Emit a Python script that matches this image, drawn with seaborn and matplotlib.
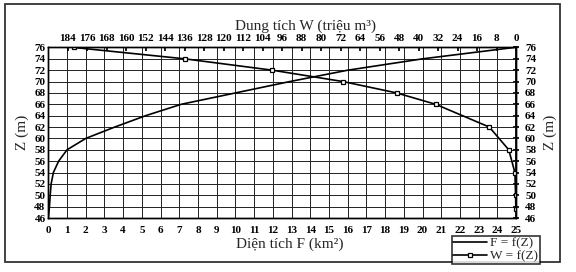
import matplotlib
matplotlib.use("Agg")
import matplotlib.pyplot as plt
import seaborn as sns
from matplotlib.patches import Rectangle

# ---- data ----
Z_F = [46, 47, 48, 50, 52, 54, 56, 58, 60, 62, 64, 66, 68, 70, 72, 74, 76]
F_km2 = [0, 0.03, 0.06, 0.1, 0.15, 0.27, 0.55, 1.0, 2.0, 3.55, 5.2, 7.1, 10.0, 12.9, 16.0, 20.0, 24.9]

Z_W = [47.5, 50, 54, 58, 62, 66, 68, 70, 72, 74, 76]
W_mil = [0.1, 0.2, 0.5, 3.0, 11.0, 33.0, 49.0, 71.0, 100.0, 136.0, 181.5]

F_ticks = list(range(0, 26))
W_ticks = list(range(0, 185, 8))
Z_ticks = list(range(46, 77, 2))

sns.set_theme(style="white")
plt.rcParams["font.family"] = ["Liberation Serif", "DejaVu Serif"]

fig = plt.figure(figsize=(5.76, 2.72), dpi=100)
ax = fig.add_axes([0.0839, 0.1985, 0.8121, 0.627])

sns.lineplot(x=F_km2, y=Z_F, sort=False, estimator=None, color="black",
             lw=1.2, ax=ax, label="F = f(Z)", legend=False)

ax2 = ax.twiny()
sns.lineplot(x=W_mil, y=Z_W, sort=False, estimator=None, color="black",
             lw=1.2, marker="s", markersize=3.3, markerfacecolor="white",
             markeredgecolor="black", markeredgewidth=0.9, ax=ax2,
             label="W = f(Z)", legend=False)

ax.set_xlim(0, 25)
ax.set_ylim(46, 76)
ax2.set_xlim(192, 0)
ax2.set_ylim(46, 76)

ax.set_xticks(F_ticks)
ax.set_yticks(Z_ticks)
ax2.set_xticks(W_ticks)

ax.grid(True, color="#222222", lw=0.7)
ax2.grid(False)

tick_fs = 8
ax.tick_params(axis="x", labelsize=tick_fs, pad=6, length=0, colors="black")
ax.tick_params(axis="y", labelsize=tick_fs, pad=2, length=0, colors="black")
ax2.tick_params(axis="x", labelsize=tick_fs, pad=3, length=3, direction="in",
                colors="black")

for a in (ax, ax2):
    for s in a.spines.values():
        s.set_color("black")
        s.set_linewidth(1.0)

secax = ax.secondary_yaxis("right")
secax.set_yticks(Z_ticks)
secax.tick_params(labelsize=tick_fs, direction="inout", length=5, pad=4,
                  colors="black")
secax.spines["right"].set_color("black")

for lab in (ax.get_xticklabels() + ax.get_yticklabels() +
            ax2.get_xticklabels() + secax.get_yticklabels()):
    lab.set_fontweight("bold")

ax.set_xlabel("Diện tích F (km²)", fontsize=11)
ax.xaxis.set_label_coords(0.517, -0.115)
ax2.set_xlabel("Dung tích W (triệu m³)", fontsize=11)
ax2.xaxis.set_label_coords(0.549, 1.105)
ax.set_ylabel("Z (m)", fontsize=11, labelpad=4)
secax.set_ylabel("Z (m)", fontsize=11, labelpad=5)

h1, l1 = ax.get_legend_handles_labels()
h2, l2 = ax2.get_legend_handles_labels()
leg = fig.legend(h1 + h2, l1 + l2, loc="lower right",
                 bbox_to_anchor=(0.937, 0.03), frameon=True, fancybox=False,
                 edgecolor="black", fontsize=9.5, borderpad=0.12,
                 handlelength=2.6, handletextpad=0.2, labelspacing=0.02,
                 borderaxespad=0.0)
leg.get_frame().set_linewidth(1.2)

fig.patches.append(Rectangle((5 / 576, 1 - 262 / 272), 555 / 576, 258 / 272,
                             transform=fig.transFigure, fill=False,
                             edgecolor="#333333", lw=1.3))

fig.savefig("out.png", dpi=100)
